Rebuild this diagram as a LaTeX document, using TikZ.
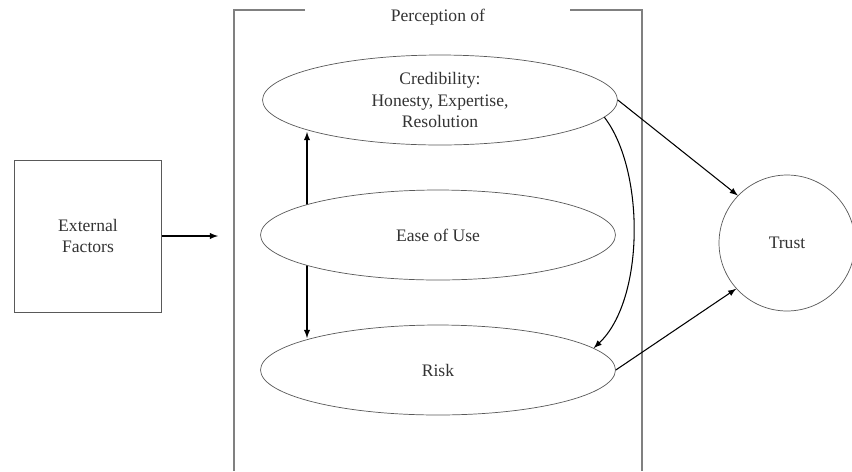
\documentclass[tikz,border=0pt]{standalone}
\usepackage{fontspec}
\setmainfont{Liberation Serif}
\usetikzlibrary{arrows, positioning, shapes.geometric}

\begin{document}
\begin{tikzpicture}[x=0.02cm, y=-0.02cm]
		\tikzstyle{Factor} = [rectangle, minimum width=2.94cm, minimum height=3.04cm, text centered, align=center, draw=black!65, fill=white, text=black!80]
		\tikzstyle{Percept} = [ellipse, minimum width=7.1cm, minimum height=1.8cm, inner sep=0pt, text centered, align=center, draw=black!65, fill=white, text=black!80]
		\tikzstyle{Outcome} = [circle, minimum size=2.72cm, text centered, draw=black!65, fill=white, text=black!80]
		\tikzstyle{frame} = [black!50, line width=1.2pt]
		\tikzstyle{arrow} = [semithick,->,>=latex]
		
		\useasboundingbox (0,0) rectangle (852,471);
		
		% frame round the perceptions
		\draw[frame] (305,10) -- (234,10) -- (234,471);
		\draw[frame] (570,10) -- (642,10) -- (642,471);
		\node (title) [text=black!80] at (438,17) {Perception of};
		
		\node (ext) [Factor] at (88,236) {External\\Factors};
		\coordinate (inlet) at (218,236);
		\draw[arrow] (ext) -- (inlet);
		
		\draw[arrow, <->] (307,132) -- (307,338);
		
		\node (cred) [Percept] at (440,100) {Credibility:\\Honesty, Expertise,\\Resolution};
		\node (ease) [Percept] at (438,235) {Ease of Use};
		\node (risk) [Percept] at (438,370) {Risk};
		\node (trust) [Outcome] at (787,243) {Trust};
		
		\draw[arrow] (cred.354) .. controls (645,170) and (645,300) .. (risk.8);
		\draw[arrow] (cred.east) -- (trust.136);
		\draw[arrow] (risk.east) -- (trust.222);
		\end{tikzpicture}
\end{document}
